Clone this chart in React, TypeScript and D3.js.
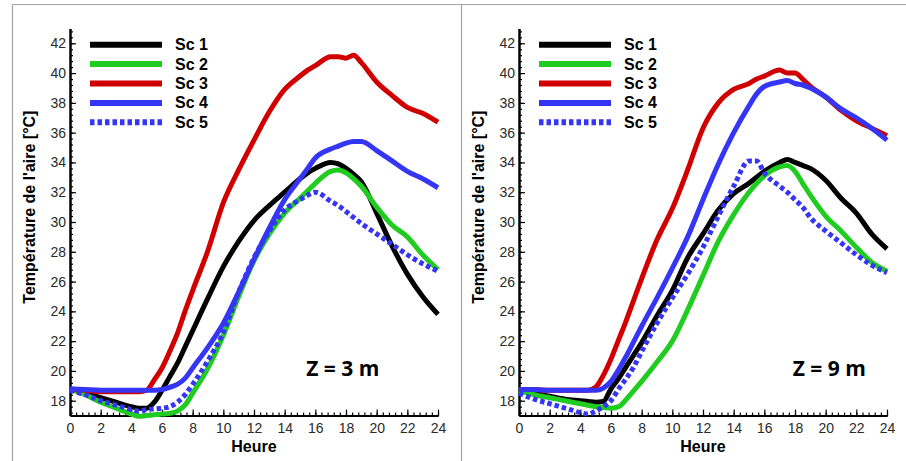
import React, { useEffect, useRef } from 'react'
import * as d3 from 'd3'

const hours = [0, 1, 2, 3, 4, 4.5, 5, 5.5, 6, 6.5, 7, 7.5, 8, 9, 10, 11, 12, 13, 14, 15, 15.5, 16, 17, 17.5, 18, 18.5, 19, 20, 21, 22, 23, 24]

const hourTicks = [0, 2, 4, 6, 8, 10, 12, 14, 16, 18, 20, 22, 24]
const tempTicks = [18, 20, 22, 24, 26, 28, 30, 32, 34, 36, 38, 40, 42]
const seriesNames = ['Sc 1', 'Sc 2', 'Sc 3', 'Sc 4', 'Sc 5']
const panelLabels = ['Z = 3 m', 'Z = 9 m']

// Z = 3 m
const z3Sc1 = [18.8, 18.5, 18.2, 17.9, 17.6, 17.5, 17.5, 17.9, 18.7, 19.6, 20.5, 21.6, 22.7, 24.9, 27.0, 28.7, 30.1, 31.1, 32.0, 32.9, 33.3, 33.6, 34.0, 33.9, 33.6, 33.2, 32.7, 30.6, 28.4, 26.5, 25.0, 23.8]
const z3Sc2 = [18.8, 18.4, 17.9, 17.5, 17.1, 16.95, 17.0, 17.05, 17.1, 17.15, 17.3, 17.7, 18.5, 20.2, 22.4, 25.0, 27.4, 29.2, 30.6, 31.6, 32.1, 32.6, 33.4, 33.5, 33.3, 32.9, 32.4, 31.0, 29.8, 29.0, 27.8, 26.8]
const z3Sc3 = [18.75, 18.7, 18.6, 18.6, 18.6, 18.6, 18.7, 19.4, 20.2, 21.3, 22.5, 24.0, 25.4, 28.1, 31.3, 33.5, 35.5, 37.4, 38.9, 39.8, 40.2, 40.5, 41.1, 41.1, 41.0, 41.2, 40.7, 39.4, 38.5, 37.7, 37.3, 36.7]
const z3Sc4 = [18.8, 18.75, 18.7, 18.7, 18.7, 18.7, 18.7, 18.7, 18.75, 18.9, 19.1, 19.5, 20.2, 21.6, 23.2, 25.3, 27.5, 29.6, 31.5, 32.9, 33.6, 34.3, 34.9, 35.1, 35.3, 35.4, 35.4, 34.8, 34.1, 33.4, 32.9, 32.3]
const z3Sc5 = [18.7, 18.4, 18.0, 17.7, 17.4, 17.3, 17.4, 17.45, 17.5, 17.6, 17.9, 18.4, 19.1, 20.7, 22.6, 25.3, 27.6, 29.4, 30.8, 31.5, 31.8, 32.0, 31.4, 31.1, 30.7, 30.3, 29.9, 29.2, 28.5, 27.8, 27.2, 26.7]

// Z = 9 m
const z9Sc1 = [18.7, 18.5, 18.3, 18.1, 18.0, 17.95, 17.9, 17.95, 18.8, 19.5, 20.3, 21.1, 21.9, 23.7, 25.4, 27.6, 29.2, 30.8, 31.9, 32.6, 33.0, 33.4, 34.0, 34.2, 34.0, 33.8, 33.6, 32.8, 31.6, 30.6, 29.2, 28.2]
const z9Sc2 = [18.7, 18.4, 18.2, 18.0, 17.8, 17.7, 17.6, 17.55, 17.5, 17.6, 18.1, 18.7, 19.3, 20.6, 22.0, 24.1, 26.4, 28.7, 30.5, 32.0, 32.6, 33.1, 33.7, 33.8, 33.4, 32.6, 31.8, 30.4, 29.4, 28.3, 27.3, 26.7]
const z9Sc3 = [18.75, 18.75, 18.7, 18.7, 18.7, 18.7, 18.9, 19.7, 20.8, 22.1, 23.4, 24.8, 26.2, 28.8, 30.9, 33.5, 36.3, 38.0, 38.9, 39.3, 39.6, 39.8, 40.2, 40.0, 40.0, 39.6, 39.1, 38.4, 37.5, 36.8, 36.3, 35.8]
const z9Sc4 = [18.75, 18.75, 18.7, 18.7, 18.7, 18.7, 18.7, 18.85, 19.3, 20.1, 21.0, 22.0, 23.0, 24.9, 26.9, 29.0, 31.5, 33.9, 36.0, 37.8, 38.6, 39.1, 39.4, 39.5, 39.3, 39.2, 39.0, 38.4, 37.6, 37.0, 36.3, 35.5]
const z9Sc5 = [18.5, 18.1, 17.8, 17.5, 17.2, 17.1, 17.3, 17.6, 18.0, 18.8, 19.5, 20.3, 21.3, 23.2, 24.9, 26.5, 28.3, 30.4, 32.4, 34.1, 34.1, 33.3, 32.4, 32.0, 31.5, 31.0, 30.3, 29.4, 28.6, 27.8, 27.1, 26.6]

const colors = ['#000000', '#1fcc1f', '#d10000', '#3535f5', '#3535f5']
const dashes = [null, null, null, null, '4.5,3']

const panels = [
  { left: 70, label: panelLabels[0], labelHour: 15.4, series: [z3Sc1, z3Sc2, z3Sc3, z3Sc4, z3Sc5] },
  { left: 519, label: panelLabels[1], labelHour: 17.85, series: [z9Sc1, z9Sc2, z9Sc3, z9Sc4, z9Sc5] },
]

const FONT = '"Liberation Sans", Arial, sans-serif'

export default function App() {
  const svgRef = useRef<SVGSVGElement>(null)

  useEffect(() => {
    const svg = d3.select(svgRef.current)
    svg.selectAll('*').remove()

    // frame
    svg.append('rect').attr('width', 906).attr('height', 461).attr('fill', '#fff')
    const frame = svg.append('g').attr('stroke', '#a3a3a3').attr('stroke-width', 1.2)
    frame.append('line').attr('x1', 12.5).attr('x2', 906).attr('y1', 4.5).attr('y2', 4.5)
    frame.append('line').attr('x1', 12.5).attr('x2', 12.5).attr('y1', 4.5).attr('y2', 461)
    frame.append('line').attr('x1', 461.5).attr('x2', 461.5).attr('y1', 4.5).attr('y2', 461)

    panels.forEach(p => {
      const x = d3.scaleLinear().domain([0, 24]).range([p.left, p.left + 368])
      const y = d3.scaleLinear().domain([17, 43]).range([415.6, 28.4])
      const g = svg.append('g')

      // minor ticks
      g.append('g').attr('transform', `translate(0,${y(17)})`)
        .call(d3.axisBottom(x).tickValues(d3.range(0, 24.01, 0.4)).tickSize(-3).tickSizeOuter(0).tickFormat(() => ''))
      g.append('g').attr('transform', `translate(${x(0)},0)`)
        .call(d3.axisLeft(y).tickValues(d3.range(17.2, 43.01, 0.4)).tickSize(-3).tickSizeOuter(0).tickFormat(() => ''))

      // major ticks + labels
      const xa = g.append('g').attr('transform', `translate(0,${y(17)})`)
        .call(d3.axisBottom(x).tickValues(hourTicks).tickSize(-6).tickSizeOuter(0).tickPadding(7).tickFormat(d3.format('d')))
      const ya = g.append('g').attr('transform', `translate(${x(0)},0)`)
        .call(d3.axisLeft(y).tickValues(tempTicks).tickSize(-6).tickSizeOuter(0).tickPadding(4).tickFormat(d3.format('d')))

      g.selectAll('.domain').attr('stroke', '#000').attr('stroke-width', 2)
      g.selectAll('.tick line').attr('stroke', '#000').attr('stroke-width', 1.2)
      ;[xa, ya].forEach(a => a.selectAll('text').attr('font-family', FONT).attr('font-size', 14).attr('fill', '#2a2a2a'))

      // axis titles
      g.append('text').attr('x', x(12)).attr('y', 452).attr('text-anchor', 'middle')
        .attr('font-family', FONT).attr('font-size', 16).attr('font-weight', 'bold').text('Heure')
      g.append('text').attr('transform', `translate(${x(0) - 35},${y(31)}) rotate(-90)`).attr('text-anchor', 'middle')
        .attr('font-family', FONT).attr('font-size', 16).attr('font-weight', 'bold').text("Température de l'aire [°C]")

      // curves
      p.series.forEach((vals, i) => {
        const line = d3.line<number>().x((_, j) => x(hours[j])).y(d => y(d)).curve(d3.curveMonotoneX)
        g.append('path').attr('d', line(vals) || '')
          .attr('fill', 'none').attr('stroke', colors[i]).attr('stroke-width', 5)
          .attr('stroke-linejoin', 'round')
          .attr('stroke-dasharray', dashes[i])
      })

      // legend
      const lg = g.append('g')
      seriesNames.forEach((name, i) => {
        const ly = 44.7 + i * 19.4
        lg.append('line').attr('x1', p.left + 20).attr('x2', p.left + 92).attr('y1', ly).attr('y2', ly)
          .attr('stroke', colors[i]).attr('stroke-width', 6).attr('stroke-dasharray', dashes[i])
        lg.append('text').attr('x', p.left + 105).attr('y', ly + 5.5)
          .attr('font-family', FONT).attr('font-size', 16).attr('font-weight', 'bold').text(name)
      })

      g.append('text').attr('x', x(p.labelHour)).attr('y', y(20.2) + 8)
        .attr('font-family', '"Open Sans", sans-serif').attr('font-size', 21).attr('font-weight', 'bold')
        .text(p.label)
    })
  }, [])

  return (
    <svg ref={svgRef} width={906} height={461} style={{ position: 'absolute', left: 0, top: 0, display: 'block' }} />
  )
}
